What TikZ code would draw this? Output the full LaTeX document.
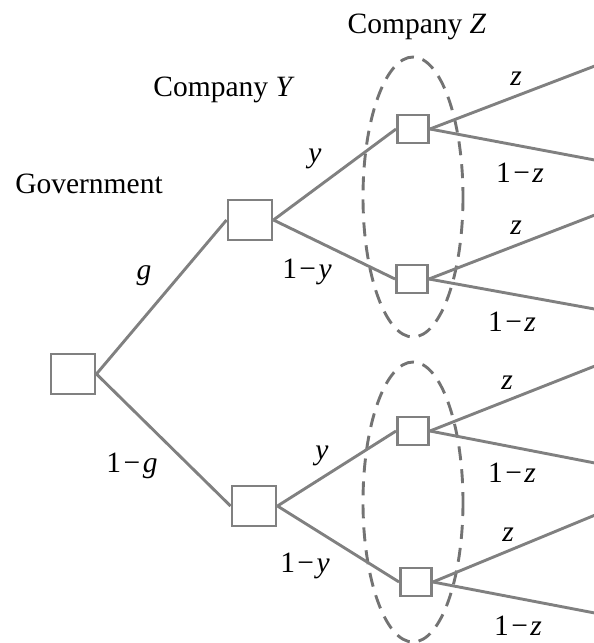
\documentclass[tikz,border=0pt]{standalone}
\usepackage{fontspec}
\setmainfont{Liberation Serif}
\newcommand{\mns}{\hspace{2.5pt}−\hspace{2.5pt}}
\begin{document}
\begin{tikzpicture}[x=1pt,y=-1pt,
  lbl/.style={font=\fontsize{29.5}{32}\selectfont, inner sep=0pt},
  big/.style={draw=black!50, line width=2.9pt, fill=white, minimum width=44pt, minimum height=40pt, inner sep=0pt},
  small/.style={draw=black!50, line width=2.9pt, fill=white, minimum width=31pt, minimum height=28pt, inner sep=0pt},
  edge/.style={draw=black!50, line width=2.9pt},
  info/.style={draw=black!55, line width=2.9pt, dash pattern=on 14pt off 9pt}]
\useasboundingbox (0,0) rectangle (594,643);
% information sets
\draw[info] (413,197) ellipse [x radius=50, y radius=140];
\draw[info] (413,502) ellipse [x radius=50, y radius=140];
% end points
\coordinate (e1) at (600,64);
\coordinate (e2) at (600,161);
\coordinate (e3) at (600,213);
\coordinate (e4) at (600,310);
\coordinate (e5) at (600,364);
\coordinate (e6) at (600,464);
\coordinate (e7) at (600,513);
\coordinate (e8) at (600,614);
% nodes
\node[big] (gov) at (73,374) {};
\node[big] (y1) at (250,220) {};
\node[big] (y2) at (254,506) {};
\node[small] (z1) at (413,129) {};
\node[small] (z2) at (412,279) {};
\node[small] (z3) at (413,431) {};
\node[small] (z4) at (416,582) {};
% edges
\draw[edge] (gov.east) -- (y1.west);
\draw[edge] (gov.east) -- (y2.west);
\draw[edge] (y1.east) -- (z1.west);
\draw[edge] (y1.east) -- (z2.west);
\draw[edge] (y2.east) -- (z3.west);
\draw[edge] (y2.east) -- (z4.west);
\draw[edge] (z1.east) -- (e1);
\draw[edge] (z1.east) -- (e2);
\draw[edge] (z2.east) -- (e3);
\draw[edge] (z2.east) -- (e4);
\draw[edge] (z3.east) -- (e5);
\draw[edge] (z3.east) -- (e6);
\draw[edge] (z4.east) -- (e7);
\draw[edge] (z4.east) -- (e8);
% redraw boxes on top
\node[big] at (gov) {};
\node[big] at (y1) {};
\node[big] at (y2) {};
\node[small] at (z1) {};
\node[small] at (z2) {};
\node[small] at (z3) {};
\node[small] at (z4) {};
% labels
\node[lbl] (lgov) at (89,184) {Government};
\node[lbl] (lcy) at (224,90) {Company \textit{Y}};
\node[lbl] (lcz) at (417,27) {Company \textit{Z}};
\node[lbl] (lg) at (144,276) {\textit{g}};
\node[lbl] (l1g) at (132,466) {1\mns\textit{g}};
\node[lbl] (ly1) at (315,159) {\textit{y}};
\node[lbl] (l1y1) at (307,272) {1\mns\textit{y}};
\node[lbl] (ly2) at (322,456) {\textit{y}};
\node[lbl] (l1y2) at (305,566) {1\mns\textit{y}};
\node[lbl] (lz1) at (516,79) {\textit{z}};
\node[lbl] (l1z1) at (520,173) {1\mns\textit{z}};
\node[lbl] (lz2) at (516,228) {\textit{z}};
\node[lbl] (l1z2) at (512,322) {1\mns\textit{z}};
\node[lbl] (lz3) at (507,383) {\textit{z}};
\node[lbl] (l1z3) at (512,473) {1\mns\textit{z}};
\node[lbl] (lz4) at (508,535) {\textit{z}};
\node[lbl] (l1z4) at (518,626) {1\mns\textit{z}};
\end{tikzpicture}
\end{document}
